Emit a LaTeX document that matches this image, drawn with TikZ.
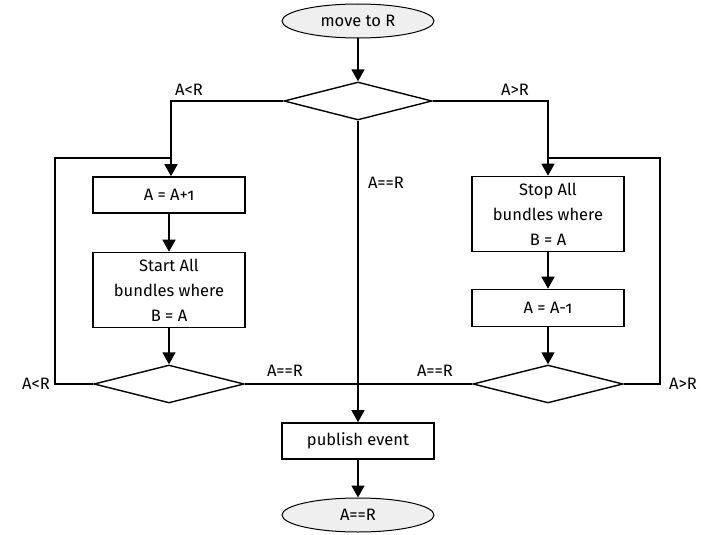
\documentclass[tikz,border=0pt]{standalone}
\usepackage{fontspec}
\setmainfont{Fira Sans}[Numbers=OldStyle]
\usetikzlibrary{shapes.geometric,arrows.meta}
\definecolor{ellfill}{HTML}{EFEFEF}
\tikzset{
  every node/.style={font=\fontsize{16.5}{25}\selectfont},
  conn/.style={line width=1.6pt},
  arr/.style={conn,-{Triangle[length=12pt,width=13pt]}},
  procbox/.style={draw,line width=1.6pt,minimum width=152pt,align=center,inner sep=1pt},
  term/.style={draw,line width=1pt,ellipse,fill=ellfill,minimum width=152pt,minimum height=34pt,inner sep=0pt},
  decision/.style={draw,line width=1.4pt,diamond,minimum width=150pt,minimum height=38pt,aspect=3.9,inner sep=0pt},
  lbl/.style={inner sep=0pt}
}
\begin{document}
\begin{tikzpicture}[x=1pt,y=-1pt]
\useasboundingbox (0,0) rectangle (702,535);
\node[term] (start) at (358,21) {move to R};
\node[decision,minimum width=148pt] (d0) at (358,101) {};
\node[procbox,minimum height=36pt] (inc) at (169,195) {A = A+1};
\node[procbox,minimum height=75pt] (startb) at (169,290) {Start All\\bundles where\\B = A};
\node[decision] (dl) at (169,384) {};
\node[procbox,minimum height=75pt] (stopb) at (548,214) {Stop All\\bundles where\\B = A};
\node[procbox,minimum height=37pt] (dec) at (548,308) {A = A-1};
\node[decision] (dr) at (548,384) {};
\node[procbox,minimum height=36pt] (pub) at (358,441) {publish event};
\node[term] (end) at (358,515) {A==R};

\coordinate (lc) at (171,101);
\coordinate (rc) at (548,101);
\coordinate (ll1) at (55,384);
\coordinate (ll2) at (55,158);
\coordinate (ll3) at (171,158);
\coordinate (rl1) at (660,384);
\coordinate (rl2) at (660,158);
\coordinate (rl3) at (548,158);

\draw[arr] (start) -- (d0);
\draw[arr] (d0.west) -- (lc) -- (inc.north -| lc);
\draw[arr] (inc) -- (startb);
\draw[arr] (startb) -- (dl);
\draw[conn] (dl.west) -- (ll1) -- (ll2) -- (ll3);
\draw[arr] (d0.east) -- (rc) -- (stopb.north);
\draw[arr] (stopb) -- (dec);
\draw[arr] (dec) -- (dr);
\draw[conn] (dr.east) -- (rl1) -- (rl2) -- (rl3);
\draw[arr] (d0.south) -- (pub.north);
\draw[conn] (dl.east) -- (dr.west);
\draw[arr] (pub) -- (end);

\node[lbl] at (189,90) {A<R};
\node[lbl] at (515,90) {A>R};
\node[lbl] at (386,183) {A==R};
\node[lbl] at (36,384) {A<R};
\node[lbl] at (683,384) {A>R};
\node[lbl] at (285,371) {A==R};
\node[lbl] at (435,371) {A==R};
\end{tikzpicture}
\end{document}
